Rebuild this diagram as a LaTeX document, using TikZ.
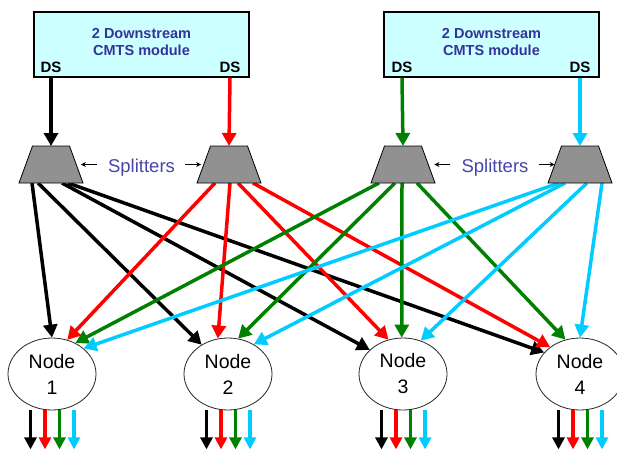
\documentclass[tikz,border=0pt]{standalone}
\usepackage{fontspec}
\setmainfont{Liberation Sans}
\usetikzlibrary{shapes.geometric,arrows.meta,calc}
\definecolor{boxfill}{RGB}{204,255,255}
\definecolor{boxtext}{RGB}{51,51,153}
\definecolor{spltext}{RGB}{70,70,170}
\definecolor{dsgreen}{RGB}{0,128,0}
\definecolor{dscyan}{RGB}{0,204,255}
\definecolor{dsred}{RGB}{255,0,0}
\definecolor{splgray}{RGB}{145,145,145}
\begin{document}
\begin{tikzpicture}[x=1pt,y=-1pt,
  cmts/.style={draw=black, line width=1.6pt, fill=boxfill, minimum width=215pt, minimum height=65pt, inner sep=0pt},
  boxlabel/.style={text=boxtext, font=\bfseries\fontsize{14.5}{17}\selectfont, align=center, inner sep=0pt},
  dslabel/.style={font=\bfseries\fontsize{15}{18}\selectfont, inner sep=0pt, anchor=base},
  splitter/.style={draw=black, line width=0.8pt, fill=splgray, line join=miter},
  spltxt/.style={text=spltext, font=\fontsize{18.5}{22}\selectfont, inner sep=0pt, anchor=base},
  hfc/.style={ellipse, draw=black!85, line width=0.8pt, fill=white, minimum width=88pt, minimum height=72pt, inner sep=0pt, align=center, font=\fontsize{19.5}{26}\selectfont},
  feed/.style={line width=3.5pt, -{Triangle[width=14pt,length=13pt]}},
  outarr/.style={line width=3.3pt, -{Triangle[width=12pt,length=12pt]}},
  sarr/.style={line width=0.8pt, -{Stealth[width=5pt,length=5pt]}}
]
\useasboundingbox (0,0) rectangle (617,450);

% CMTS boxes
\node[cmts] (box1) at (141.5,44.5) {};
\node[cmts] (box2) at (491.5,44.5) {};
\node[boxlabel] (t1) at (141.5,42.5) {2 Downstream\\CMTS module};
\node[boxlabel] (t2) at (491.5,42.5) {2 Downstream\\CMTS module};
\node[dslabel] (ds1) at (51,72) {DS};
\node[dslabel] (ds2) at (230,72) {DS};
\node[dslabel] (ds3) at (402,72) {DS};
\node[dslabel] (ds4) at (580,72) {DS};

% nodes
\node[hfc] (n1) at (52,374) {Node\\1};
\node[hfc] (n2) at (228,374) {Node\\2};
\node[hfc] (n3) at (403,374) {Node\\3};
\node[hfc] (n4) at (580,374) {Node\\4};

% splitter centres, tops and bottoms
\foreach \i/\x in {1/51,2/229,3/403,4/580}{
  \coordinate (s\i) at (\x,164.5);
  \coordinate (sp\i t) at (\x,146);
  \coordinate (sp\i b) at (\x,183);
}

\draw[feed,black] ($(sp1b)+(-19,0)$) -- (n1.90);
\draw[feed,black] ($(sp1b)+(-13,0)$) -- (n2.132);
\draw[feed,black] ($(sp1b)+(11,0)$) -- (n3.144);
\draw[feed,black] ($(sp1b)+(17,0)$) -- (n4.149);

\draw[feed,dsred] ($(sp2b)+(-14,0)$) -- (n1.66);
\draw[feed,dsred] ($(sp2b)+(1,0)$) -- (n2.106);
\draw[feed,dsred] ($(sp2b)+(9,0)$) -- (n3.113);
\draw[feed,dsred] ($(sp2b)+(24,0)$) -- (n4.138);

\draw[feed,dsgreen] ($(sp3b)+(-24,0)$) -- (n1.53);
\draw[feed,dsgreen] ($(sp3b)+(-8,0)$) -- (n2.74);
\draw[feed,dsgreen] ($(sp3b)+(-1,0)$) -- (n3.92);
\draw[feed,dsgreen] ($(sp3b)+(14,0)$) -- (n4.113);

\draw[feed,dscyan] ($(sp4b)+(-21,0)$) -- (n1.39);
\draw[feed,dscyan] ($(sp4b)+(-15,0)$) -- (n2.49);
\draw[feed,dscyan] ($(sp4b)+(7,0)$) -- (n3.62);
\draw[feed,dscyan] ($(sp4b)+(22,0)$) -- (n4.90);

% splitters
\foreach \i in {1,2,3,4}{
  \draw[splitter] ($(s\i)+(-32,18.5)$) -- ($(s\i)+(32,18.5)$) -- ($(s\i)+(18.5,-18.5)$) -- ($(s\i)+(-18.5,-18.5)$) -- cycle;
}

% DS feeds
\draw[feed,black] (ds1.base |- box1.south) -- (sp1t);
\draw[feed,dsred] (ds2.base |- box1.south) -- (sp2t);
\draw[feed,dsgreen] (ds3.base |- box2.south) -- (sp3t);
\draw[feed,dscyan] (ds4.base |- box2.south) -- (sp4t);

% splitter labels
\node[spltxt] (l1) at (141.5,172.5) {Splitters};
\node[spltxt] (l2) at (495,172.5) {Splitters};
\draw[sarr] ($(l1.base west)+(-11,-8)$) -- ++(-16,0);
\draw[sarr] ($(l1.base east)+(10,-8)$) -- ++(16,0);
\draw[sarr] ($(l2.base west)+(-11,-8)$) -- ++(-16,0);
\draw[sarr] ($(l2.base east)+(10,-8)$) -- ++(16,0);

% outputs
\foreach \n in {n1,n2,n3,n4}{
  \draw[outarr,black] ([xshift=-21.5pt]\n.south) -- ++(0,39);
  \draw[outarr,dsred] ([xshift=-7pt]\n.south) -- ++(0,39);
  \draw[outarr,dsgreen] ([xshift=7.5pt]\n.south) -- ++(0,39);
  \draw[outarr,dscyan] ([xshift=22pt]\n.south) -- ++(0,39);
}
\end{tikzpicture}
\end{document}
